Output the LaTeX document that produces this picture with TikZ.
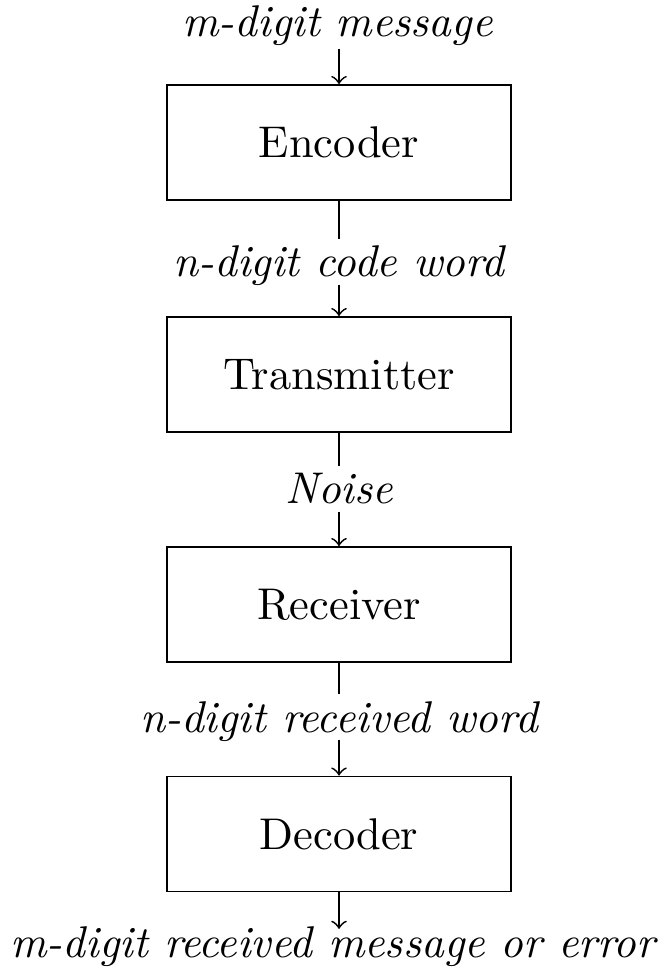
\documentclass[tikz,border=0pt]{standalone}
\begin{document}
\begin{tikzpicture}[x=0.225pt,y=-0.225pt,
  box/.style={draw, minimum width=77.5pt, minimum height=25.9pt, inner sep=0pt},
  lab/.style={inner sep=1.5pt, text depth=0pt, font=\itshape, anchor=base}]
\useasboundingbox (0,0) rectangle (667,971);
\node[lab] (l0) at (337.5,37) {m-digit message};
\node[box] (enc) at (339,142.5) {Encoder};
\node[lab] (l1) at (339,277) {n-digit code word};
\node[box] (tra) at (339,374.5) {Transmitter};
\node[lab] (l2) at (339,504) {Noise};
\node[box] (rec) at (339,604.5) {Receiver};
\node[lab] (l3) at (339,732) {n-digit received word};
\node[box] (dec) at (339,834) {Decoder};
\node[lab] (l4) at (333,957) {m-digit received message or error};
\draw[->, shorten <=1pt] (enc.north |- l0.south) -- (enc);
\draw (enc) -- (l1);
\draw[->] (l1) -- (tra);
\draw (tra) -- (l2);
\draw[->] (l2) -- (rec);
\draw (rec) -- (l3);
\draw[->] (l3) -- (dec);
\draw[->, shorten >=-2.3pt] (dec) -- (dec.south |- l4.north);
\end{tikzpicture}
\end{document}
